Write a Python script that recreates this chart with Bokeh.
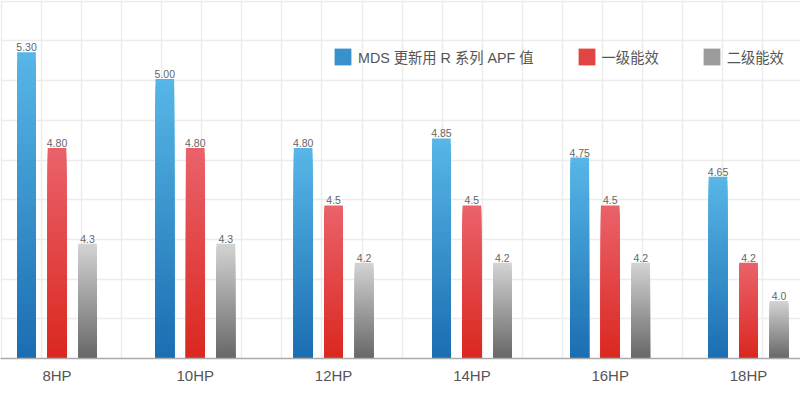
import numpy as np
from bokeh.plotting import figure
from bokeh.models import Range1d, FixedTicker, Grid, Legend, LegendItem, ColumnDataSource
from bokeh.core.properties import value
from bokeh.embed import file_html
from bokeh.resources import INLINE

# ---------------- data ----------------
categories = ["8HP", "10HP", "12HP", "14HP", "16HP", "18HP"]
series_names = ["MDS 更新用 R 系列 APF 值", "一级能效", "二级能效"]
mds_apf = [5.30, 5.16, 4.80, 4.85, 4.75, 4.65]
mds_labels = ["5.30", "5.00", "4.80", "4.85", "4.75", "4.65"]
level1 = [4.80, 4.80, 4.5, 4.5, 4.5, 4.2]
level1_labels = ["4.80", "4.80", "4.5", "4.5", "4.5", "4.2"]
level2 = [4.3, 4.3, 4.2, 4.2, 4.2, 4.0]
level2_labels = ["4.3", "4.3", "4.2", "4.2", "4.2", "4.0"]

# ---------------- layout / style ----------------
W, H = 800, 395
FRAME_H = 358
BOTTOM = H - FRAME_H
BASE = 3.7
PX_X = 138.3          # pixels per category
PX_Y = 191.4          # pixels per value unit
X0 = -56.5 / PX_X
Y1 = BASE + FRAME_H / PX_Y
X1 = X0 + W / PX_X

offsets = [-0.2205, 0.0, 0.2205]
bar_w = 0.135
grads = [((87, 182, 230), (27, 110, 178)),
         ((233, 98, 106), (219, 40, 32)),
         ((210, 210, 210), (104, 104, 104))]
N = 40

FONT = "Liberation Sans, Noto Sans CJK SC"

p = figure(width=W, height=H, output_backend="svg", toolbar_location=None,
           x_range=Range1d(X0, X1), y_range=Range1d(BASE, Y1),
           min_border_left=0, min_border_right=0, min_border_top=0,
           min_border_bottom=BOTTOM)
p.outline_line_color = None
p.background_fill_color = "white"
p.border_fill_color = "white"
p.xgrid.visible = False
p.ygrid.visible = False
p.yaxis.visible = False

# decorative background grid (square ~40px cells)
gx = [X0 + (0.7 + 40.09 * k) / PX_X for k in range(21)]
gy = [BASE + 39.7 * k / PX_Y for k in range(1, 10)]
p.add_layout(Grid(dimension=0, ticker=FixedTicker(ticks=gx),
                  grid_line_color="#ececec", grid_line_width=1.5))
p.add_layout(Grid(dimension=1, ticker=FixedTicker(ticks=gy),
                  grid_line_color="#ececec", grid_line_width=1.5))

def hexc(c):
    return "#%02x%02x%02x" % tuple(int(round(v)) for v in c)

series = [mds_apf, level1, level2]
labels = [mds_labels, level1_labels, level2_labels]
legend_items = []
for s, (vals, labs, off, (top_c, bot_c)) in enumerate(zip(series, labels, offsets, grads)):
    xs, tops, cols = [], [], []
    for j in range(N):
        frac = (N - j) / N      # tallest first (lightest)
        t = j / (N - 1)         # 0 top colour -> 1 bottom colour
        col = hexc([top_c[k] * (1 - t) + bot_c[k] * t for k in range(3)])
        for i, v in enumerate(vals):
            xs.append(i + off)
            tops.append(BASE + (v - BASE) * frac)
            cols.append(col)
    src = ColumnDataSource(dict(x=xs, top=tops, color=cols))
    r = p.vbar(x="x", top="top", bottom=BASE, width=bar_w, fill_color="color",
               line_color=None, source=src)
    legend_items.append(LegendItem(label=series_names[s], renderers=[r],
                                   index=(N // 2) * len(vals)))
    tsrc = ColumnDataSource(dict(x=[i + off for i in range(len(vals))], y=vals, t=labs))
    p.text(x="x", y="y", text="t", source=tsrc, text_align="center",
           text_baseline="alphabetic", y_offset=-5, text_font=value("Liberation Sans"),
           text_font_size="10.5px", text_color="#666666")

# x axis
p.xaxis.ticker = FixedTicker(ticks=list(range(len(categories))))
p.xaxis.major_label_overrides = {i: c for i, c in enumerate(categories)}
p.xaxis.major_tick_line_color = None
p.xaxis.major_tick_out = 0
p.xaxis.major_tick_in = 0
p.xaxis.minor_tick_line_color = None
p.xaxis.axis_line_color = "#aaaaaa"
p.xaxis.axis_line_width = 1.5
p.xaxis.major_label_text_font = "Liberation Sans"
p.xaxis.major_label_text_font_size = "15px"
p.xaxis.major_label_text_color = "#555555"
p.xaxis.major_label_standoff = 8

legend = Legend(items=legend_items, orientation="horizontal", location=(332, 291),
                glyph_width=21, glyph_height=21, label_standoff=5, spacing=42,
                padding=0, margin=0, border_line_color=None, background_fill_alpha=0,
                label_text_font=FONT, label_text_font_size="14.3px",
                label_text_color="#555555", label_height=21)
p.add_layout(legend)

open("out.html", "w").write(file_html(p, INLINE))
